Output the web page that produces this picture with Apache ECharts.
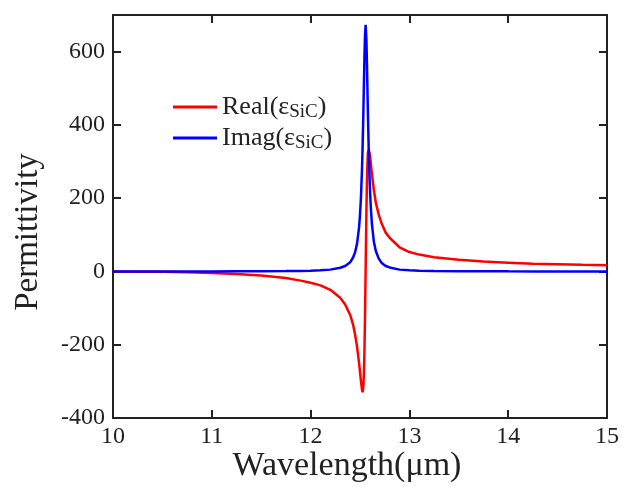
<!DOCTYPE html>
<html>
<head>
<meta charset="utf-8">
<script src="https://cdn.jsdelivr.net/npm/echarts@6/dist/echarts.min.js"></script>
<style>
  html, body { margin: 0; padding: 0; background: #ffffff; }
  #chart { width: 622px; height: 493px; }
</style>
</head>
<body>
<div id="chart"></div>
<script>
// Wavelength samples (µm), denser around the SiC phonon resonance
const wavelength = [
  10.0, 10.25, 10.5, 10.75, 11.0, 11.25, 11.5, 11.75, 11.9, 12.0,
  12.1, 12.2, 12.3, 12.35, 12.4, 12.43, 12.45, 12.47, 12.49, 12.5,
  12.51, 12.52, 12.526, 12.53, 12.535, 12.54, 12.545, 12.55, 12.557, 12.565,
  12.57, 12.575, 12.58, 12.588, 12.595, 12.6, 12.61, 12.62, 12.64, 12.66,
  12.69, 12.72, 12.76, 12.8, 12.9, 13.0, 13.1, 13.25, 13.5, 13.75,
  14.0, 14.25, 14.5, 14.75, 15.0
];

// Real part of the SiC permittivity
const realPart = [
  0, -0.5, -1, -2, -4, -7, -11, -18, -25, -31,
  -38, -50, -72, -90, -118, -145, -172, -205, -248, -274,
  -300, -322, -330, -324, -308, -275, -218, -138, 5, 166,
  242, 293, 323, 332, 334, 320, 294, 268, 223, 188,
  155, 130, 106, 92, 66, 53, 46, 39, 32, 27,
  24, 21, 20, 18, 17
];

// Imaginary part of the SiC permittivity
const imagPart = [
  0.1, 0.1, 0.1, 0.2, 0.2, 0.3, 0.5, 1, 1.5, 2,
  3, 5, 10, 15, 25, 38, 52, 76, 119, 154,
  204, 278, 336, 383, 447, 517, 585, 640, 673, 631,
  572, 503, 434, 336, 269, 230, 172, 131, 82, 56,
  35, 23, 15, 11, 5, 3, 2, 1.4, 0.8, 0.5,
  0.3, 0.2, 0.2, 0.1, 0.1
];

const seriesNames = ['Real', 'Imag'];
const xTitle = 'Wavelength(μm)';
const yTitle = 'Permittivity';

const serif = "'Liberation Serif', 'Times New Roman', serif";
const ink = '#222222';

const chart = echarts.init(document.getElementById('chart'), null, { renderer: 'canvas' });

const frameAxis = {
  axisLine: { show: true, onZero: false, lineStyle: { color: ink, width: 2 } },
  axisTick: { show: true, inside: true, length: 8, lineStyle: { color: ink, width: 2 } },
  splitLine: { show: false }
};

chart.setOption({
  animation: false,
  backgroundColor: '#ffffff',
  grid: { left: 113, right: 13, top: 15, bottom: 75, containLabel: false },
  xAxis: [
    Object.assign({
      type: 'value', min: 10, max: 15, interval: 1, position: 'bottom',
      axisLabel: { color: ink, fontFamily: serif, fontSize: 24, margin: 7 }
    }, frameAxis),
    Object.assign({
      type: 'value', min: 10, max: 15, interval: 1, position: 'top',
      axisLabel: { show: false }
    }, frameAxis)
  ],
  yAxis: [
    Object.assign({
      type: 'value', min: -400, max: 700, interval: 200, position: 'left',
      axisLabel: { color: ink, fontFamily: serif, fontSize: 24, margin: 8, showMaxLabel: false }
    }, frameAxis),
    Object.assign({
      type: 'value', min: -400, max: 700, interval: 200, position: 'right',
      axisLabel: { show: false }
    }, frameAxis)
  ],
  legend: {
    orient: 'vertical',
    left: 168,
    top: 89,
    icon: 'rect',
    itemWidth: 44,
    itemHeight: 3,
    itemGap: 3,
    data: seriesNames,
    formatter: function (name) {
      return '{a|' + name + '(ε}{b|SiC}{a|)}';
    },
    textStyle: {
      color: ink,
      rich: {
        a: { fontFamily: serif, fontSize: 26, lineHeight: 30, color: ink },
        b: { fontFamily: serif, fontSize: 19, lineHeight: 16, verticalAlign: 'bottom', color: ink }
      }
    }
  },
  series: [
    {
      name: seriesNames[0],
      type: 'line',
      symbol: 'none',
      smooth: false,
      xAxisIndex: 0,
      yAxisIndex: 0,
      lineStyle: { color: '#ff0000', width: 2.5 },
      itemStyle: { color: '#ff0000' },
      data: wavelength.map((w, i) => [w, realPart[i]])
    },
    {
      name: seriesNames[1],
      type: 'line',
      symbol: 'none',
      smooth: false,
      xAxisIndex: 0,
      yAxisIndex: 0,
      lineStyle: { color: '#0000ff', width: 2.5 },
      itemStyle: { color: '#0000ff' },
      data: wavelength.map((w, i) => [w, imagPart[i]])
    }
  ],
  graphic: [
    {
      type: 'text',
      x: 347, y: 466,
      style: {
        text: xTitle, fontFamily: serif, fontSize: 34, fill: ink,
        x: 0, y: 0, textAlign: 'center', textVerticalAlign: 'middle'
      }
    },
    {
      type: 'text',
      x: 28, y: 232,
      rotation: Math.PI / 2,
      style: {
        text: yTitle, fontFamily: serif, fontSize: 33, fill: ink,
        x: 0, y: 0, textAlign: 'center', textVerticalAlign: 'middle'
      }
    }
  ]
});
</script>
</body>
</html>
